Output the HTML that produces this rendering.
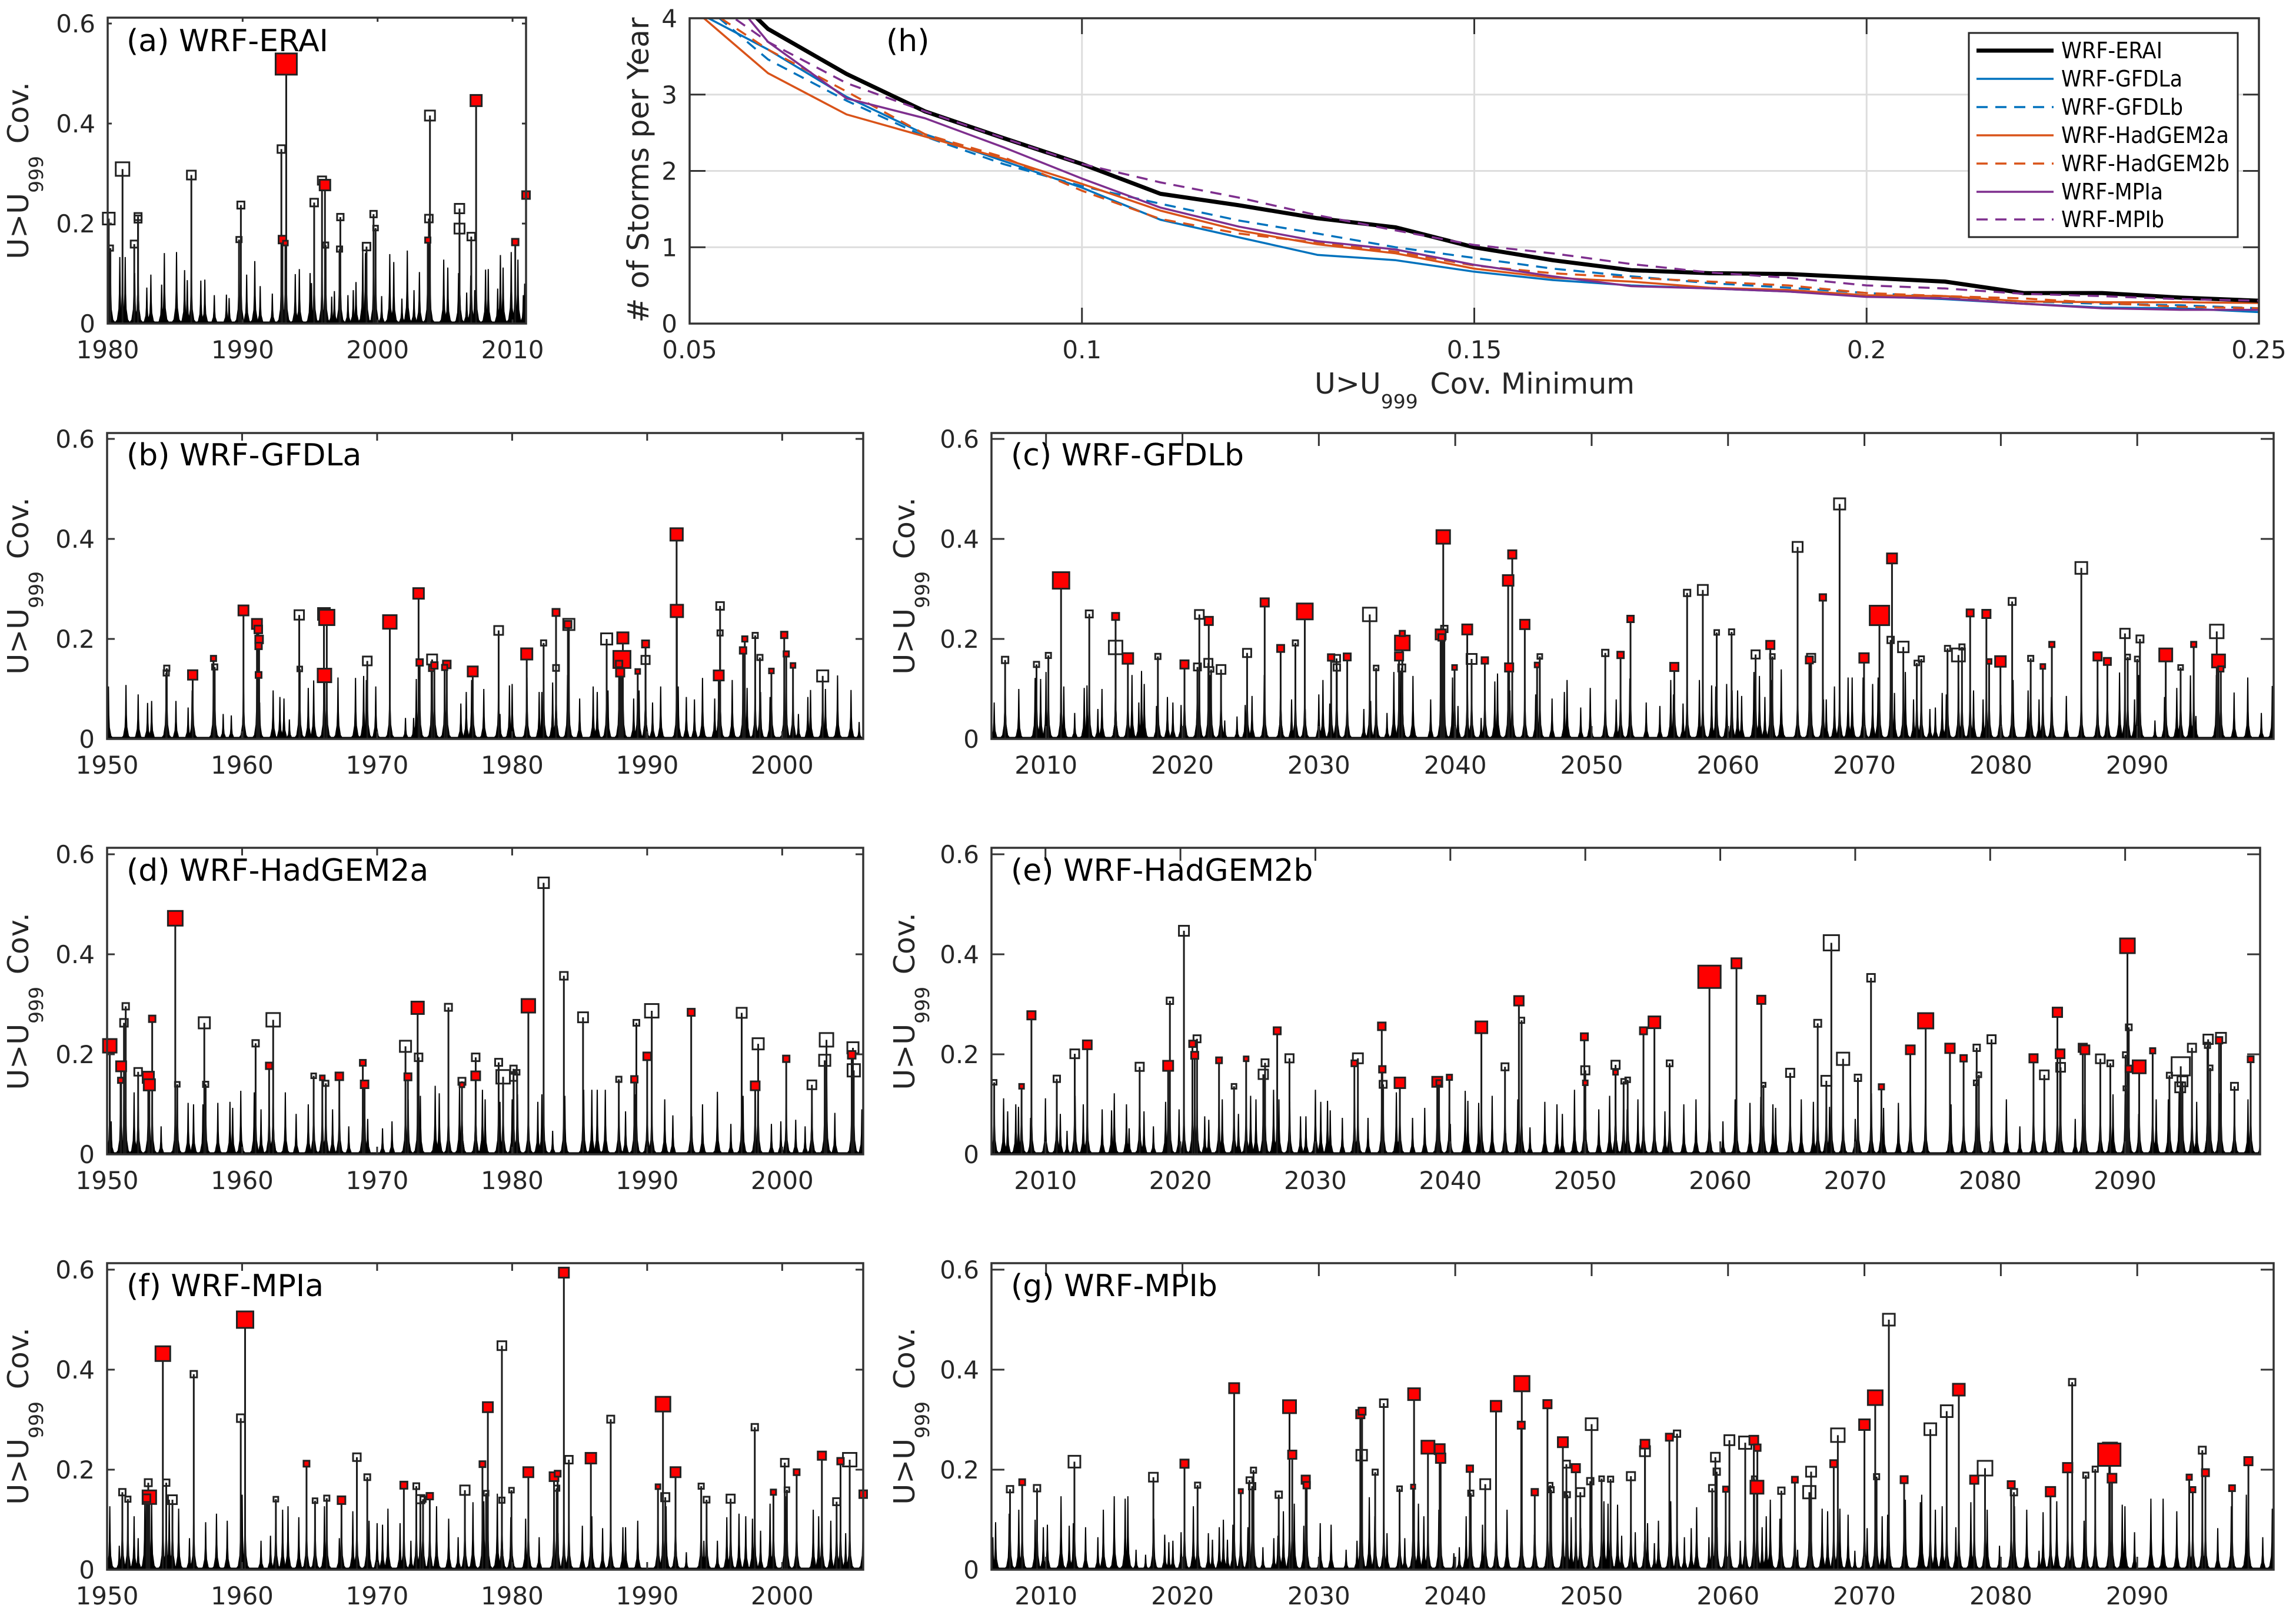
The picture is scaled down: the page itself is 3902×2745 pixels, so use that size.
<!DOCTYPE html>
<html lang="en">
<head>
<meta charset="utf-8">
<title>U&gt;U999 coverage by simulation</title>
<style>
html,body{margin:0;padding:0;background:#fff;}
svg{display:block;font-family:"DejaVu Sans","Liberation Sans",sans-serif;}
.yl{font-size:49px;fill:#262626;text-anchor:middle;}
.pt{font-size:52px;fill:#000;}
.lg{font-size:38px;fill:#000;}
</style>
</head>
<body>
<svg id="figure" xmlns="http://www.w3.org/2000/svg" width="3902" height="2745" viewBox="0 0 3902 2745">
<rect x="0" y="0" width="3902" height="2745" fill="#ffffff"/>
<g id="plots"></g>

<text class="pt" x="215" y="87">(a) WRF-ERAI</text>
<text class="pt" x="1506" y="87">(h)</text>
<text class="pt" x="215" y="791">(b) WRF-GFDLa</text>
<text class="pt" x="1718" y="791">(c) WRF-GFDLb</text>
<text class="pt" x="215" y="1497">(d) WRF-HadGEM2a</text>
<text class="pt" x="1718" y="1497">(e) WRF-HadGEM2b</text>
<text class="pt" x="215" y="2203">(f) WRF-MPIa</text>
<text class="pt" x="1718" y="2203">(g) WRF-MPIb</text>

<text class="yl" transform="translate(48,290) rotate(-90)">U&gt;U<tspan dy="25" font-size="33">999</tspan><tspan dy="-25" dx="5"> Cov.</tspan></text>
<text class="yl" transform="translate(48,996) rotate(-90)">U&gt;U<tspan dy="25" font-size="33">999</tspan><tspan dy="-25" dx="5"> Cov.</tspan></text>
<text class="yl" transform="translate(1554,996) rotate(-90)">U&gt;U<tspan dy="25" font-size="33">999</tspan><tspan dy="-25" dx="5"> Cov.</tspan></text>
<text class="yl" transform="translate(48,1702) rotate(-90)">U&gt;U<tspan dy="25" font-size="33">999</tspan><tspan dy="-25" dx="5"> Cov.</tspan></text>
<text class="yl" transform="translate(1554,1702) rotate(-90)">U&gt;U<tspan dy="25" font-size="33">999</tspan><tspan dy="-25" dx="5"> Cov.</tspan></text>
<text class="yl" transform="translate(48,2407) rotate(-90)">U&gt;U<tspan dy="25" font-size="33">999</tspan><tspan dy="-25" dx="5"> Cov.</tspan></text>
<text class="yl" transform="translate(1554,2407) rotate(-90)">U&gt;U<tspan dy="25" font-size="33">999</tspan><tspan dy="-25" dx="5"> Cov.</tspan></text>
<text class="yl" style="font-size:50px" transform="translate(1102,289) rotate(-90)"># of Storms per Year</text>
<text class="yl" x="2506" y="669">U&gt;U<tspan dy="25" font-size="33">999</tspan><tspan dy="-25" dx="5"> Cov. Minimum</tspan></text>

<g>
<rect x="3346" y="56" width="457" height="347" fill="#ffffff" stroke="#262626" stroke-width="3"/>
<line x1="3359" x2="3490" y1="86" y2="86" stroke="#000000" stroke-width="7"/>
<text class="lg" x="3503" y="99" textLength="172" lengthAdjust="spacingAndGlyphs">WRF-ERAI</text>
<line x1="3359" x2="3490" y1="134" y2="134" stroke="#0072BD" stroke-width="3.5"/>
<text class="lg" x="3503" y="147" textLength="206" lengthAdjust="spacingAndGlyphs">WRF-GFDLa</text>
<line x1="3359" x2="3490" y1="182" y2="182" stroke="#0072BD" stroke-width="3.5" stroke-dasharray="19 13"/>
<text class="lg" x="3503" y="195" textLength="207" lengthAdjust="spacingAndGlyphs">WRF-GFDLb</text>
<line x1="3359" x2="3490" y1="230" y2="230" stroke="#D95319" stroke-width="3.5"/>
<text class="lg" x="3503" y="243" textLength="285" lengthAdjust="spacingAndGlyphs">WRF-HadGEM2a</text>
<line x1="3359" x2="3490" y1="278" y2="278" stroke="#D95319" stroke-width="3.5" stroke-dasharray="19 13"/>
<text class="lg" x="3503" y="291" textLength="286" lengthAdjust="spacingAndGlyphs">WRF-HadGEM2b</text>
<line x1="3359" x2="3490" y1="326" y2="326" stroke="#7E2F8E" stroke-width="3.5"/>
<text class="lg" x="3503" y="339" textLength="173" lengthAdjust="spacingAndGlyphs">WRF-MPIa</text>
<line x1="3359" x2="3490" y1="373" y2="373" stroke="#7E2F8E" stroke-width="3.5" stroke-dasharray="19 13"/>
<text class="lg" x="3503" y="386" textLength="175" lengthAdjust="spacingAndGlyphs">WRF-MPIb</text>
</g>
</svg>

<script>
/* ---------- Panel (h): storm counts per year vs. coverage threshold ---------- */
const thresholds=[.05,.06,.07,.08,.09,.10,.11,.12,.13,.14,.15,.16,.17,.18,.19,.20,.21,.22,.23,.24,.25];
const stormsERAI=[4.86,3.86,3.27,2.78,2.43,2.09,1.70,1.55,1.38,1.26,1.0,.83,.70,.66,.65,.60,.55,.40,.40,.34,.30];
const stormsGFDLa=[4.13,3.59,2.97,2.48,2.13,1.78,1.36,1.13,.90,.83,.68,.57,.50,.46,.42,.36,.32,.26,.21,.20,.15];
const stormsGFDLb=[4.33,3.46,2.92,2.45,2.09,1.80,1.57,1.35,1.18,1.0,.86,.72,.62,.53,.47,.40,.35,.29,.26,.24,.20];
const stormsHadGEM2a=[4.16,3.28,2.74,2.45,2.16,1.83,1.48,1.22,1.04,.92,.72,.60,.55,.47,.44,.37,.36,.29,.28,.28,.27];
const stormsHadGEM2b=[4.27,3.59,3.04,2.48,2.18,1.74,1.37,1.18,1.06,.94,.76,.66,.60,.55,.50,.40,.36,.33,.27,.22,.20];
const stormsMPIa=[4.93,3.69,2.95,2.69,2.31,1.90,1.52,1.27,1.08,.97,.77,.62,.49,.46,.42,.35,.33,.26,.20,.18,.18];
const stormsMPIb=[4.41,3.69,3.15,2.78,2.43,2.09,1.85,1.65,1.42,1.22,1.03,.92,.78,.67,.60,.50,.46,.39,.36,.32,.30];
const thresholdTicks=[.05,.1,.15,.2,.25];
const thresholdTickLabels=['0.05','0.1','0.15','0.2','0.25'];
const stormTicks=[0,1,2,3,4];
const stormTickLabels=['0','1','2','3','4'];

/* ---------- Shared tick values for the coverage panels ---------- */
const coverageTicks=[0,.2,.4,.6];
const coverageTickLabels=['0','0.2','0.4','0.6'];
const eraiYearTicks=[1980,1990,2000,2010];
const historicalYearTicks=[1950,1960,1970,1980,1990,2000];
const futureYearTicks=[2010,2020,2030,2040,2050,2060,2070,2080,2090];

/* ---------- (a) WRF-ERAI ---------- */
const aEventYears=[1980.08,1980.2,1981.1,1981.97,1982.25,1982.25,1986.2,1989.73,1989.87,1992.87,1992.95,1993.17,1993.23,1995.3,1995.88,1996.1,1996.15,1997.24,1997.18,1999.18,1999.7,1999.85,2003.88,2003.8,2003.72,2006.07,2006.07,2006.94,2007.3,2010.2,2011];
const aEventValues=[.21,.151,.309,.159,.214,.209,.297,.168,.237,.349,.168,.161,.519,.242,.286,.277,.157,.213,.149,.154,.219,.191,.416,.21,.167,.23,.19,.174,.446,.163,.257];
const aEventDurations=[20,9,23,12,12,12,15,9,12,13,13,8,36,13,14,18,9,11,9,13,11,8,17,13,9,16,17,13,19,11,13];
const aEventExtreme=[0,0,0,0,0,0,0,0,0,0,1,1,1,0,0,1,0,0,0,0,0,0,0,0,1,0,0,0,1,1,1];
const aPeakYears=[1980.1,1980.9,1981.3,1982,1982.9,1983.2,1984,1984.2,1985.1,1985.7,1985.9,1986.9,1987.2,1987.9,1988.8,1989,1990.3,1990.9,1991.3,1992.2,1993.9,1994.2,1995,1995.1,1996.6,1996.8,1997.8,1998.2,1998.4,1998.9,1999.1,2000.3,2000.9,2001.2,2001.8,2002.2,2002.7,2003.1,2004.9,2005.2,2006,2006.6,2006.9,2007.2,2008,2008.2,2008.9,2009.1,2009.3,2009.9,2010.4,2010.8,2010.9];
const aPeakValues=[.117,.133,.133,.101,.072,.098,.078,.141,.143,.107,.087,.086,.088,.057,.058,.051,.098,.125,.075,.06,.099,.109,.101,.081,.054,.065,.057,.067,.083,.149,.141,.055,.139,.123,.05,.146,.067,.103,.128,.112,.101,.062,.096,.067,.108,.109,.07,.137,.112,.143,.128,.057,.08];

/* ---------- (b) WRF-GFDLa ---------- */
const bEventYears=[1954.42,1954.38,1956.34,1957.88,1957.97,1960.1,1961.1,1961.2,1961.26,1961.22,1961.22,1964.27,1964.23,1966.06,1966.27,1966.1,1969.27,1970.94,1973.07,1973.15,1974.07,1974.03,1974.24,1975.16,1975,1977.08,1979,1981.08,1982.33,1983.25,1983.25,1984.2,1984.13,1987,1988.2,1988.13,1987.92,1988,1989.3,1989.88,1989.88,1992.18,1992.2,1995.3,1995.4,1995.4,1997.1,1997.23,1998,1998.35,1999.2,2000.15,2000.3,2000.8,2003];
const bEventValues=[.1415,.132,.128,.161,.144,.257,.23,.219,.199,.186,.128,.14,.248,.25,.243,.127,.156,.234,.291,.153,.159,.141,.147,.149,.143,.135,.217,.17,.192,.142,.253,.229,.229,.2,.202,.159,.15,.133,.135,.158,.19,.409,.256,.127,.266,.212,.177,.2,.207,.163,.136,.208,.17,.147,.126];
const bEventDurations=[9,9,16,9,9,17,17,13,13,11,10,8,16,20,26,23,15,23,18,11,17,9,11,13,9,17,15,19,9,10,12,19,12,19,19,29,11,14,8,14,12,21,21,17,13,9,11,9,9,9,8,11,9,8,19];
const bEventExtreme=[0,0,1,1,0,1,1,1,1,1,1,0,0,1,1,1,0,1,1,1,0,1,1,1,1,1,0,1,0,0,1,0,1,0,1,1,1,1,1,0,1,1,1,1,0,0,1,1,0,0,1,1,1,1,0];
const bPeakYears=[1950.1,1951.4,1952.3,1953,1953.3,1955.1,1956,1956.3,1957.9,1958.6,1959.2,1960.1,1961.3,1962.3,1962.8,1963.1,1963.5,1964.9,1965.3,1967.1,1968.4,1969,1969.2,1969.9,1972.1,1972.7,1972.9,1976.2,1976.6,1977,1977.9,1979.1,1979.8,1980,1981.1,1982,1982.2,1983,1984.1,1985,1986,1986.3,1987.1,1988,1989,1989.4,1990.4,1991,1992.3,1992.9,1993.5,1994.1,1995,1995.3,1996.3,1997.1,1997.4,1998.4,1999.1,2000.3,2001.2,2001.9,2002.1,2003.2,2004.1,2005.1,2005.7];
const bPeakValues=[.105,.108,.089,.072,.076,.076,.063,.097,.06,.05,.047,.115,.073,.097,.084,.081,.039,.102,.117,.123,.122,.126,.118,.105,.042,.042,.12,.071,.094,.118,.1,.05,.107,.11,.123,.094,.094,.113,.128,.081,.105,.094,.097,.123,.081,.097,.073,.105,.105,.084,.079,.122,.081,.118,.118,.107,.102,.094,.084,.105,.05,.084,.098,.1,.127,.098,.034];

/* ---------- (c) WRF-GFDLb ---------- */
const cEventYears=[2007,2009.3,2010.17,2011.1,2013.17,2015.1,2015.1,2016,2018.2,2020.15,2021.1,2021.24,2021.93,2021.9,2022.1,2022.83,2024.74,2026.03,2027.2,2028.28,2028.97,2030.9,2031.3,2031.32,2032.08,2033.73,2034.2,2035.88,2036.12,2036.12,2036.08,2039.12,2038.93,2039.2,2039,2039.95,2040.88,2041.2,2042.17,2043.88,2044.18,2043.95,2045.1,2046,2046.2,2051,2052.12,2052.85,2056.06,2057,2058.15,2059.17,2060.26,2062.02,2063.1,2063.25,2065.1,2066.09,2065.96,2066.95,2068.18,2069.97,2071.1,2072.02,2071.92,2072.85,2073.84,2074.17,2076.09,2076.89,2077.15,2077.75,2078.94,2079.14,2079.97,2080.83,2082.19,2083.08,2083.74,2085.9,2087.09,2087.81,2089.1,2089.3,2090.2,2090,2092.09,2093.18,2094.14,2095.83,2095.96,2096.13];
const cEventValues=[.158,.149,.167,.317,.25,.245,.183,.161,.165,.149,.144,.249,.236,.152,.139,.139,.172,.273,.181,.192,.255,.163,.161,.143,.164,.249,.142,.165,.192,.211,.142,.404,.209,.22,.203,.143,.219,.16,.157,.317,.369,.143,.229,.148,.165,.172,.168,.24,.144,.292,.298,.213,.214,.169,.188,.165,.384,.162,.158,.283,.47,.162,.247,.361,.198,.184,.152,.16,.181,.168,.184,.252,.25,.155,.155,.275,.161,.145,.189,.342,.165,.155,.211,.164,.2,.16,.168,.143,.189,.215,.156,.14];
const cEventDurations=[11,9,9,28,12,12,23,18,9,14,12,15,14,14,8,15,14,14,12,9,27,11,12,11,12,23,8,14,25,9,12,23,17,11,11,8,17,17,11,18,14,14,16,8,8,11,11,11,14,11,17,8,9,14,14,8,17,14,12,11,19,16,33,17,11,18,8,9,9,22,9,12,14,8,18,12,9,8,9,20,14,12,16,8,12,8,22,8,9,23,22,9];
const cEventExtreme=[0,0,0,1,0,1,0,1,0,1,0,0,1,0,0,0,0,1,1,0,1,1,0,0,1,0,0,1,1,1,0,1,1,0,1,1,1,0,1,1,1,1,1,1,0,0,1,1,1,0,0,0,0,0,1,0,0,0,1,1,0,1,1,1,0,0,0,0,0,0,0,1,1,1,1,0,0,1,1,0,1,1,0,0,0,0,1,0,1,0,1,1];
const cPeakYears=[2006.2,2007,2008,2009.2,2009.6,2010,2011.1,2011.3,2012.1,2012.8,2013,2013.8,2014.1,2015.1,2016.3,2016.8,2017,2017.2,2018.1,2018.9,2019.3,2019.9,2021.1,2022,2023.1,2024,2024.6,2025.1,2026,2027.2,2028,2029,2030,2030.3,2030.8,2031.3,2033.3,2033.8,2034.2,2035,2035.5,2036,2036.9,2038.2,2039,2039.8,2040.2,2040.9,2041.9,2042.9,2043.1,2044,2045.9,2047.1,2048,2048.2,2049.2,2049.9,2051,2051.8,2052.8,2054,2055,2055.8,2056,2056.7,2057,2057.9,2058.8,2059.1,2059.9,2060.3,2060.7,2061,2061.9,2062.3,2062.7,2063.2,2063.9,2066,2067,2067.2,2067.8,2068.8,2069.1,2069.9,2070.6,2071,2071.9,2072.2,2073,2073.6,2074.8,2075.2,2075.7,2076,2076.9,2078,2078.7,2080,2080.9,2082,2082.8,2083.7,2084.8,2087.1,2088.7,2089.1,2089.8,2090.1,2091.3,2092,2092.9,2093.9,2094.3,2095.8,2097.1,2098.1,2099.1,2099.9];
const cPeakValues=[.073,.123,.1,.122,.12,.134,.128,.105,.052,.102,.107,.06,.1,.123,.128,.073,.136,.11,.066,.084,.073,.068,.134,.128,.037,.045,.068,.086,.128,.131,.079,.06,.089,.118,.071,.089,.06,.076,.034,.052,.134,.136,.126,.079,.076,.123,.066,.097,.042,.115,.131,.097,.089,.081,.094,.118,.063,.102,.066,.079,.121,.073,.066,.118,.089,.071,.086,.118,.107,.105,.11,.097,.097,.086,.134,.126,.084,.118,.139,.149,.079,.079,.105,.123,.123,.123,.11,.123,.097,.092,.134,.079,.06,.063,.092,.089,.118,.097,.079,.068,.118,.097,.079,.084,.086,.086,.133,.071,.079,.128,.037,.084,.102,.127,.046,.128,.093,.123,.052,.106];

/* ---------- (d) WRF-HadGEM2a ---------- */
const dEventYears=[1950.2,1951.04,1951,1951.38,1951.25,1952.3,1953.05,1953.13,1953.34,1955.05,1955.2,1957.2,1957.3,1961,1962,1962.3,1965.3,1965.94,1966.2,1967.2,1968.94,1969.07,1972.1,1972.28,1973,1973.07,1975.28,1976.28,1976.28,1977.3,1977.3,1979,1979.33,1980.1,1980.1,1980.37,1981.2,1982.33,1983.83,1985.25,1987.9,1989.05,1989.2,1990,1990.34,1993.26,1997,1998.22,1998,2000.3,2002.2,2003.28,2003.15,2005.24,2005.15,2005.3];
const dEventValues=[.217,.176,.148,.296,.263,.165,.154,.139,.271,.472,.14,.263,.14,.222,.177,.269,.157,.153,.142,.156,.183,.14,.216,.155,.293,.194,.294,.146,.139,.194,.157,.184,.155,.171,.154,.164,.297,.543,.357,.274,.15,.15,.263,.196,.287,.284,.283,.221,.137,.191,.139,.229,.188,.213,.199,.168];
const dEventDurations=[23,17,9,11,13,13,19,19,11,25,8,19,9,11,11,23,8,8,9,13,10,13,19,12,21,13,12,12,8,13,15,12,23,11,12,8,23,18,13,17,9,11,10,13,23,12,17,19,15,11,15,23,19,19,13,21];
const dEventExtreme=[1,1,1,0,0,0,1,1,1,1,0,0,0,0,1,0,0,1,0,1,1,1,0,1,1,0,0,0,1,0,1,0,0,0,0,0,1,0,0,0,0,1,0,1,0,1,0,0,1,1,0,0,0,0,1,0];
const dPeakYears=[1950.3,1952,1952.3,1954,1956,1956.4,1957.1,1958.2,1959.1,1959.3,1959.9,1960.9,1961.4,1962.3,1963.2,1964,1964.9,1966.7,1967.9,1969.3,1970.4,1971.1,1972.3,1973.2,1974.3,1974.6,1975.3,1976.1,1977.8,1978,1979.1,1980,1980.4,1981.9,1982.2,1983,1983.9,1985.3,1985.9,1986.3,1986.9,1988.4,1989.1,1991.3,1991.9,1993.3,1994.1,1995.2,1996.2,1997.1,1998.2,1999.2,1999.9,2001,2001.7,2002.2,2003.3,2003.9,2005.9];
const dPeakValues=[.066,.124,.12,.056,.103,.1,.1,.103,.105,.093,.127,.124,.09,.132,.124,.081,.1,.09,.056,.071,.052,.066,.11,.117,.137,.122,.056,.134,.129,.11,.105,.11,.12,.105,.12,.047,.117,.129,.129,.129,.129,.086,.12,.11,.078,.076,.1,.125,.061,.117,.124,.061,.066,.069,.056,.117,.149,.083,.09];

/* ---------- (e) WRF-HadGEM2b ---------- */
const eEventYears=[2006.2,2008.23,2008.96,2010.84,2012.17,2013.1,2016.98,2019.09,2019.22,2020.26,2020.89,2021.23,2021.06,2022.86,2023.97,2024.87,2026.27,2026.14,2027.17,2028.08,2032.89,2033.15,2034.92,2034.96,2035.02,2036.26,2039.03,2039.16,2039.93,2042.3,2044.05,2045.08,2045.28,2049.93,2050,2050,2052.24,2052.24,2052.84,2053.14,2054.31,2055.12,2056.25,2059.2,2061.2,2063.04,2063.2,2065.18,2067.22,2067.86,2068.23,2069.1,2070.2,2071.17,2071.94,2074.08,2075.22,2077.02,2078.03,2079,2079.16,2078.96,2080.1,2083.21,2084.01,2084.98,2085.18,2085.22,2086.86,2087.02,2088.16,2088.9,2090.03,2090.03,2090.17,2090.27,2090.27,2091.04,2092.04,2093.28,2094.12,2094.25,2094.08,2094.95,2096.15,2096.1,2096.3,2097.1,2096.96,2098.1,2099.3];
const eEventValues=[.144,.136,.278,.151,.201,.219,.175,.177,.307,.447,.221,.231,.198,.188,.136,.191,.183,.16,.247,.192,.182,.192,.256,.17,.14,.143,.145,.143,.154,.254,.175,.307,.268,.235,.168,.143,.179,.164,.146,.149,.247,.264,.182,.355,.382,.309,.139,.163,.262,.147,.423,.191,.153,.353,.135,.209,.267,.212,.192,.213,.159,.143,.23,.192,.159,.284,.201,.174,.213,.209,.191,.182,.199,.132,.417,.254,.171,.175,.207,.158,.176,.146,.134,.213,.23,.218,.173,.233,.228,.136,.19];
const eEventDurations=[8,8,14,11,15,15,14,17,11,17,11,12,12,10,8,8,12,16,12,14,10,17,13,11,12,18,17,9,9,20,12,16,9,12,14,8,14,8,8,8,12,20,10,38,17,14,7,14,12,17,26,21,11,13,9,15,26,16,11,11,8,8,14,14,15,16,15,15,14,15,15,10,9,7,25,10,11,22,9,9,31,17,17,14,16,9,8,17,11,12,10];
const eEventExtreme=[0,1,1,0,0,1,0,1,0,0,1,0,1,1,0,1,0,0,1,0,1,0,1,1,0,1,1,1,1,1,0,1,0,1,0,1,0,1,0,0,1,1,0,1,1,1,0,0,0,0,0,0,0,0,1,1,1,1,1,0,0,0,0,1,0,1,1,0,1,1,0,0,0,0,1,0,1,1,1,0,0,0,0,0,0,0,0,0,1,0,1];
const ePeakYears=[2006.2,2006.9,2007.2,2007.8,2008,2008.9,2010,2011.1,2011.6,2012.2,2012.8,2014.2,2015.1,2014.9,2016,2016.2,2017.3,2018,2018.9,2019.9,2021.8,2022.1,2023.1,2024.3,2025.2,2025.6,2026.9,2027.3,2028.1,2028.9,2029.3,2030,2030.4,2030.9,2031.1,2032,2032.9,2033.9,2035,2036,2037.2,2038.1,2040,2041.1,2041.3,2042.1,2043.1,2044.1,2045,2045.9,2047,2047.9,2048.3,2049.2,2051,2051.8,2053.1,2053.9,2055.9,2057.3,2058.2,2059.2,2060.2,2061.1,2062.2,2063,2063.9,2064.1,2066,2066.9,2068.1,2069.1,2070,2071.2,2072.1,2073.2,2074.1,2075.2,2077.1,2079,2080.1,2081.2,2082.2,2083.2,2084,2086.3,2087,2089.1,2090,2091,2092.3,2093.2,2094,2095.3,2096.1,2097,2098.1,2099.1,2100];
const ePeakValues=[.052,.112,.086,.1,.095,.073,.112,.081,.047,.117,.1,.09,.122,.088,.1,.052,.086,.056,.105,.09,.076,.069,.11,.081,.117,.11,.129,.11,.105,.076,.076,.129,.105,.107,.088,.073,.12,.073,.124,.124,.073,.093,.061,.127,.107,.103,.117,.042,.11,.054,.105,.1,.081,.129,.09,.117,.09,.11,.086,.1,.11,.12,.066,.11,.103,.115,.1,.093,.11,.105,.095,.042,.071,.122,.093,.103,.12,.129,.1,.1,.088,.11,.056,.083,.047,.071,.1,.12,.12,.081,.11,.11,.124,.105,.132,.122,.09,.11,.032];

/* ---------- (f) WRF-MPIa ---------- */
const fEventYears=[1951.13,1951.54,1953.05,1953.13,1952.92,1954.13,1954.38,1954.84,1956.42,1959.9,1960.22,1962.5,1964.77,1965.4,1966.27,1967.36,1968.5,1969.27,1971.98,1972.9,1973.2,1973.4,1973.9,1976.5,1977.8,1978.07,1978.2,1979.24,1979.24,1979.95,1981.2,1983.1,1983.37,1983.3,1983.83,1984.2,1985.83,1987.3,1990.8,1991.17,1991.34,1992.1,1994,1994.4,1996.18,1997.97,1999.35,2000.19,2000.35,2001.07,2002.94,2004.03,2004.32,2005,2006];
const fEventValues=[.155,.141,.174,.145,.143,.432,.174,.14,.391,.303,.5,.141,.212,.138,.143,.139,.225,.185,.169,.167,.141,.141,.147,.159,.211,.153,.325,.448,.139,.159,.195,.186,.192,.163,.594,.22,.223,.301,.166,.331,.145,.195,.167,.14,.142,.285,.155,.214,.16,.195,.228,.136,.217,.22,.151];
const fEventDurations=[11,9,12,23,13,25,11,15,11,13,28,8,10,8,9,13,13,10,12,10,14,9,11,16,10,8,17,15,9,8,17,15,10,9,17,13,18,12,8,25,14,17,9,10,14,11,9,13,8,10,14,12,11,23,13];
const fEventExtreme=[0,0,0,1,1,1,0,0,0,0,1,0,1,0,0,1,0,0,1,0,0,0,1,0,1,0,1,0,0,0,1,1,1,0,1,0,1,0,1,1,0,1,0,0,0,0,1,0,0,1,1,0,1,0,1];
const fPeakYears=[1950.2,1950.9,1952,1952.3,1952.8,1953.3,1954.6,1955.3,1956.1,1957.3,1958.1,1958.9,1960,1961.4,1962.1,1963,1963.4,1964.2,1966.1,1967.2,1968.2,1969.4,1970,1970.4,1970.8,1971.7,1972.5,1973.2,1974.4,1975.3,1976,1977.1,1977.9,1978.9,1979.9,1981,1982,1983.4,1985.2,1985.9,1986.7,1987.3,1988.2,1988.4,1989.3,1991.4,1992.1,1992.9,1994.2,1995.2,1995.9,1996.8,1997.3,1997.8,1998.4,1999.1,2000.3,2002.3,2002.7,2003.6,2004.7,2006];
const fPeakValues=[.127,.048,.107,.063,.135,.142,.14,.122,.063,.095,.112,.098,.15,.058,.068,.12,.127,.105,.127,.063,.117,.098,.093,.09,.122,.093,.058,.102,.127,.102,.065,.135,.137,.152,.105,.102,.065,.073,.088,.107,.083,.1,.085,.085,.098,.127,.122,.035,.058,.058,.105,.112,.107,.102,.078,.132,.147,.12,.107,.098,.073,.053];

/* ---------- (g) WRF-MPIb ---------- */
const gEventYears=[2007.36,2008.25,2009.34,2012.08,2017.87,2020.15,2021.11,2023.79,2024.28,2024.91,2025.21,2025.11,2027.06,2027.85,2028.05,2029.04,2029.11,2033.04,2033.17,2033.14,2034.13,2034.76,2035.92,2036.91,2036.98,2038,2038.86,2038.93,2041.07,2041.14,2042.2,2042.99,2044.88,2044.84,2045.83,2046.76,2046.96,2047.03,2047.89,2048.15,2048.22,2048.84,2049.17,2050,2049.9,2050.73,2051.39,2052.88,2053.91,2053.91,2055.7,2056.26,2058.84,2059.07,2059.17,2059.83,2060.1,2061.26,2061.89,2062.15,2061.92,2062.12,2063.91,2064.9,2065.96,2066.09,2067.75,2068.05,2070,2070.79,2070.89,2071.79,2072.91,2074.83,2076.03,2076.92,2078.05,2078.84,2080.76,2080.96,2083.64,2084.9,2085.23,2086.23,2086.92,2088,2087.95,2088.15,2093.81,2094.07,2094.77,2095,2096.95,2098.15];
const gEventValues=[.161,.175,.163,.216,.185,.212,.169,.363,.157,.179,.199,.167,.15,.326,.23,.18,.169,.311,.317,.229,.195,.333,.162,.166,.351,.245,.241,.223,.202,.153,.171,.327,.372,.289,.155,.331,.169,.16,.255,.211,.15,.203,.155,.291,.177,.182,.181,.187,.237,.251,.265,.272,.163,.225,.196,.161,.259,.254,.259,.244,.182,.165,.158,.18,.155,.196,.212,.269,.29,.344,.186,.5,.18,.281,.317,.36,.18,.203,.17,.155,.156,.204,.375,.189,.201,.24,.23,.183,.185,.16,.239,.194,.163,.217];
const gEventDurations=[11,10,11,20,15,14,9,17,7,10,9,11,11,22,14,14,11,14,12,18,9,13,8,7,20,22,17,16,11,9,17,18,26,12,11,14,8,9,17,12,9,14,14,20,11,8,9,14,17,15,12,11,11,15,11,9,17,21,15,11,8,22,11,10,21,17,12,23,18,25,9,20,12,20,20,20,14,25,12,11,16,16,11,9,9,24,38,15,9,9,12,12,10,14];
const gEventExtreme=[0,1,0,0,0,1,0,1,1,0,0,0,0,1,1,1,1,1,1,0,0,0,0,1,1,1,1,1,1,0,0,1,1,1,1,1,0,0,1,0,0,1,0,0,0,0,0,0,0,1,1,0,0,0,0,1,0,0,1,1,0,1,0,1,0,0,1,0,1,1,0,0,1,0,0,1,1,0,1,0,1,1,0,0,0,1,1,1,1,1,0,1,1,1];
const gPeakYears=[2006.1,2006.3,2007.3,2008,2009.2,2009.8,2010.1,2011.1,2011.7,2012,2012.9,2013.8,2014.2,2015,2015.8,2016,2016.6,2017.3,2017.9,2018.7,2019,2019.3,2019.9,2020.8,2021.9,2022.2,2022.7,2023,2023.3,2023.7,2024.8,2025.9,2026.7,2027,2027.4,2028.2,2028.9,2030.1,2030.9,2032,2032.8,2033.7,2034.1,2035,2036.3,2037.3,2037.7,2038.8,2039.9,2040.3,2040.8,2042,2043,2043.8,2044.9,2045.8,2047,2047.9,2048.5,2049.2,2049.9,2050.9,2051.2,2051.9,2052.2,2053.2,2054.1,2054.6,2054.9,2055.8,2056.8,2057.3,2057.7,2058.6,2059.2,2060.9,2062.5,2062.8,2063.1,2063.8,2065.1,2066,2066.9,2067.3,2068.2,2068.8,2069.3,2070.2,2071.3,2071.7,2073,2074.1,2074.2,2075.2,2075.7,2076.7,2077.8,2079,2079.9,2081,2081.9,2082.8,2083.1,2084.1,2086.1,2088.9,2089.1,2089.8,2091,2091.9,2092.9,2095.9,2096.9,2098,2099.2,2099.9];
const gPeakValues=[.065,.095,.112,.12,.1,.085,.09,.147,.088,.093,.085,.065,.12,.147,.142,.147,.04,.03,.102,.07,.055,.058,.075,.127,.073,.06,.085,.1,.06,.09,.085,.045,.063,.068,.117,.132,.088,.093,.09,.04,.058,.145,.107,.073,.063,.132,.107,.12,.033,.045,.107,.09,.135,.12,.043,.07,.13,.127,.105,.083,.147,.137,.132,.13,.068,.075,.093,.053,.098,.137,.065,.083,.125,.065,.085,.058,.085,.107,.14,.102,.04,.1,.122,.117,.122,.11,.038,.083,.107,.11,.14,.135,.15,.12,.127,.085,.135,.12,.048,.127,.12,.038,.115,.137,.098,.13,.127,.075,.142,.142,.117,.083,.127,.15,.065,.122];

/* ---------- Drawing ---------- */
const NS='http://www.w3.org/2000/svg';
const plots=document.getElementById('plots');
function make(tag,attrs,parent){
  const n=document.createElementNS(NS,tag);
  for(const k in attrs)n.setAttribute(k,attrs[k]);
  parent.appendChild(n);
  return n;
}
function axisLinear(d0,d1,r0,r1){return v=>r0+(v-d0)*(r1-r0)/(d1-d0);}

const AXIS='#333333',INK='#262626';

function drawFrame(g,box,xs,ys,xTicks,xLabels,yTicks,yLabels,tickLen){
  xTicks.forEach((t,i)=>{
    const px=xs(t);
    const top=make('line',{x1:px,x2:px,y1:box.top,y2:box.top+tickLen,stroke:AXIS,'stroke-width':3},g);
    
    
    const bot=make('line',{x1:px,x2:px,y1:box.bottom,y2:box.bottom-tickLen,stroke:AXIS,'stroke-width':3},g);
    
    
    const lab=make('text',{x:px,y:box.bottom+59,'text-anchor':'middle','font-size':42,fill:INK},g);
    
    
    lab.textContent=xLabels[i];
  });
  yTicks.forEach((t,i)=>{
    const py=ys(t);
    const l=make('line',{x1:box.left,x2:box.left+tickLen,y1:py,y2:py,stroke:AXIS,'stroke-width':3},g);
    
    
    const r=make('line',{x1:box.right,x2:box.right-tickLen,y1:py,y2:py,stroke:AXIS,'stroke-width':3},g);
    
    
    const lab=make('text',{x:box.left-21,y:py+15,'text-anchor':'end','font-size':42,fill:INK},g);
    
    
    lab.textContent=yLabels[i];
  });
  const frame=make('rect',{x:box.left,y:box.top,width:box.right-box.left,height:box.bottom-box.top,fill:'none',stroke:AXIS,'stroke-width':3.5},g);
  
  
}

function spikePoints(x,y0,h){
  return [[x-10,y0],[x-5,y0-.06*h],[x-2.4,y0-.22*h],[x-1.6,y0-.45*h],[x-1,y0-h],[x+1,y0-h],[x+1.6,y0-.45*h],[x+2.4,y0-.22*h],[x+5,y0-.06*h],[x+10,y0]]
    .map(p=>p[0].toFixed(1)+','+p[1].toFixed(1)).join(' ');
}

function drawCoveragePanel(p,idx){
  const g=make('g',{},plots);
  
  
  const xs=axisLinear(p.xMin,p.xMax,p.box.left,p.box.right);
  const ys=axisLinear(0,.6,p.box.bottom,p.box.bottom-510);
  const clipId='clip-'+p.id;
  const defs=make('defs',{},g);
  const cp=make('clipPath',{id:clipId},defs);
  make('rect',{x:p.box.left,y:p.box.top,width:p.box.right-p.box.left,height:p.box.bottom-p.box.top+2},cp);

  const series=make('g',{'clip-path':'url(#'+clipId+')',fill:'#000'},g);
  
  
  p.peakYears.forEach((yr,i)=>{
    const poly=make('polygon',{points:spikePoints(xs(yr),ys(0),ys(0)-ys(p.peakValues[i]))},series);
    
    
  });
  p.eventYears.forEach((yr,i)=>{
    const pedestal=Math.min(p.eventValues[i],.13);
    const poly=make('polygon',{points:spikePoints(xs(yr),ys(0),ys(0)-ys(pedestal))},series);
    
    
  });
  const base=make('line',{x1:p.box.left,x2:p.box.right,y1:ys(0)-1,y2:ys(0)-1,stroke:'#000','stroke-width':5},series);
  
  

  p.eventYears.forEach((yr,i)=>{
    const stem=make('line',{x1:xs(yr),x2:xs(yr),y1:ys(0),y2:ys(p.eventValues[i]),stroke:'#1a1a1a','stroke-width':3},g);
    
    
  });
  [0,1].forEach(pass=>{
    p.eventYears.forEach((yr,i)=>{
      if(p.eventExtreme[i]!==pass)return;
      const side=p.eventDurations[i];
      const m=make('rect',{x:xs(yr)-side/2,y:ys(p.eventValues[i])-side/2,width:side,height:side,
        fill:pass?'#ff0000':'none',stroke:'#222','stroke-width':3},g);
      
      
    });
  });
  const labels=p.xTicks.map(String);
  drawFrame(g,p.box,xs,ys,p.xTicks,labels,coverageTicks,coverageTickLabels,Math.round(.0101*(p.box.right-p.box.left)));
}

const coveragePanels=[
 {id:'a',box:{left:183,right:894,top:30,bottom:550},xMin:1980,xMax:2011,xTicks:eraiYearTicks,peakYears:aPeakYears,peakValues:aPeakValues,eventYears:aEventYears,eventValues:aEventValues,eventDurations:aEventDurations,eventExtreme:aEventExtreme},
 {id:'b',box:{left:182,right:1467,top:736,bottom:1256},xMin:1950,xMax:2006,xTicks:historicalYearTicks,peakYears:bPeakYears,peakValues:bPeakValues,eventYears:bEventYears,eventValues:bEventValues,eventDurations:bEventDurations,eventExtreme:bEventExtreme},
 {id:'c',box:{left:1685,right:3864,top:736,bottom:1256},xMin:2006,xMax:2100,xTicks:futureYearTicks,peakYears:cPeakYears,peakValues:cPeakValues,eventYears:cEventYears,eventValues:cEventValues,eventDurations:cEventDurations,eventExtreme:cEventExtreme},
 {id:'d',box:{left:182,right:1467,top:1441,bottom:1962},xMin:1950,xMax:2006,xTicks:historicalYearTicks,peakYears:dPeakYears,peakValues:dPeakValues,eventYears:dEventYears,eventValues:dEventValues,eventDurations:dEventDurations,eventExtreme:dEventExtreme},
 {id:'e',box:{left:1685,right:3841,top:1441,bottom:1962},xMin:2006,xMax:2100,xTicks:futureYearTicks,peakYears:ePeakYears,peakValues:ePeakValues,eventYears:eEventYears,eventValues:eEventValues,eventDurations:eEventDurations,eventExtreme:eEventExtreme},
 {id:'f',box:{left:182,right:1467,top:2147,bottom:2668},xMin:1950,xMax:2006,xTicks:historicalYearTicks,peakYears:fPeakYears,peakValues:fPeakValues,eventYears:fEventYears,eventValues:fEventValues,eventDurations:fEventDurations,eventExtreme:fEventExtreme},
 {id:'g',box:{left:1685,right:3864,top:2147,bottom:2668},xMin:2006,xMax:2100,xTicks:futureYearTicks,peakYears:gPeakYears,peakValues:gPeakValues,eventYears:gEventYears,eventValues:gEventValues,eventDurations:gEventDurations,eventExtreme:gEventExtreme}
];
coveragePanels.forEach(drawCoveragePanel);

/* Panel h */
(function(){
  const box={left:1172,right:3839,top:31,bottom:550};
  const g=make('g',{},plots);
  
  
  const xs=axisLinear(.05,.25,box.left,box.right);
  const ys=axisLinear(0,4,box.bottom,box.top);
  const defs=make('defs',{},g);
  const cp=make('clipPath',{id:'clip-h'},defs);
  make('rect',{x:box.left,y:box.top,width:box.right-box.left,height:box.bottom-box.top},cp);
  thresholdTicks.slice(1,-1).forEach(t=>{
    const l=make('line',{x1:xs(t),x2:xs(t),y1:box.top,y2:box.bottom,stroke:'#dddddd','stroke-width':3},g);
    
    
  });
  stormTicks.slice(1,-1).forEach(t=>{
    const l=make('line',{x1:box.left,x2:box.right,y1:ys(t),y2:ys(t),stroke:'#dddddd','stroke-width':3},g);
    
    
  });
  const lines=[
    {name:'gfdla',vals:stormsGFDLa,color:'#0072BD',w:3.5,dash:''},
    {name:'gfdlb',vals:stormsGFDLb,color:'#0072BD',w:3.5,dash:'19 13'},
    {name:'hadgem2a',vals:stormsHadGEM2a,color:'#D95319',w:3.5,dash:''},
    {name:'hadgem2b',vals:stormsHadGEM2b,color:'#D95319',w:3.5,dash:'19 13'},
    {name:'erai',vals:stormsERAI,color:'#000000',w:7,dash:''},
    {name:'mpia',vals:stormsMPIa,color:'#7E2F8E',w:3.5,dash:''},
    {name:'mpib',vals:stormsMPIb,color:'#7E2F8E',w:3.5,dash:'19 13'}
  ];
  lines.forEach(s=>{
    const pts=thresholds.map((t,i)=>xs(t).toFixed(1)+','+ys(s.vals[i]).toFixed(1)).join(' ');
    const pl=make('polyline',{points:pts,fill:'none',stroke:s.color,'stroke-width':s.w,'stroke-dasharray':s.dash,'stroke-linejoin':'round','clip-path':'url(#clip-h)'},g);
    
    
  });
  drawFrame(g,box,xs,ys,thresholdTicks,thresholdTickLabels,stormTicks,stormTickLabels,27);
})();
</script>
</body>
</html>
